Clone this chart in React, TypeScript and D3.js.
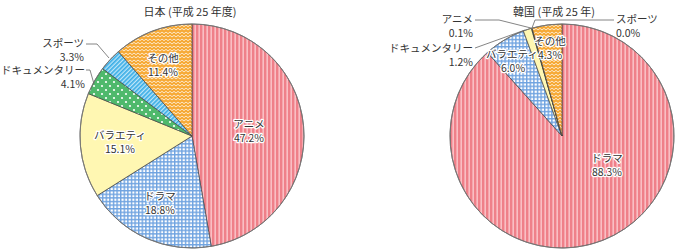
import React from "react";
import * as d3 from "d3";

const jpCategories = ["アニメ", "ドラマ", "バラエティ", "ドキュメンタリー", "スポーツ", "その他"];
const jpValues = [47.2, 18.8, 15.1, 4.1, 3.3, 11.4];
const jpFills = ["red", "check", "yellow", "dots", "stripe", "zig"];

const krCategories = ["ドラマ", "バラエティ", "ドキュメンタリー", "アニメ", "スポーツ", "その他"];
const krValues = [88.3, 6.0, 1.2, 0.1, 0.0, 4.3];
const krFills = ["red", "check", "yellow", "dots", "stripe", "zig"];

const titles = ["日本 (平成 25 年度)", "韓国 (平成 25 年)"];

const W = 678;
const H = 252;
const R = 112;
const FONT = "'Noto Sans CJK JP', 'Noto Sans', sans-serif";

type Lbl = { cat: string; x: number; y: number; anchor: "start" | "middle" | "end"; line?: [number, number][]; outside?: boolean };

const jpLabelPos: Record<string, Lbl> = {
  "アニメ": { cat: "アニメ", x: 249, y: 128, anchor: "middle" },
  "ドラマ": { cat: "ドラマ", x: 160, y: 200, anchor: "middle" },
  "バラエティ": { cat: "バラエティ", x: 120, y: 139, anchor: "middle" },
  "ドキュメンタリー": { cat: "ドキュメンタリー", x: 85, y: 74, anchor: "end", outside: true, line: [[86, 70], [90, 70], [94, 84]] },
  "スポーツ": { cat: "スポーツ", x: 84, y: 47, anchor: "end", outside: true, line: [[86, 44], [97, 44], [109, 58]] },
  "その他": { cat: "その他", x: 163, y: 62, anchor: "middle" },
};
const krLabelPos: Record<string, Lbl> = {
  "ドラマ": { cat: "ドラマ", x: 607, y: 162, anchor: "middle" },
  "バラエティ": { cat: "バラエティ", x: 512, y: 58, anchor: "middle" },
  "ドキュメンタリー": { cat: "ドキュメンタリー", x: 473, y: 52, anchor: "end", outside: true, line: [[475, 48], [525, 30]] },
  "アニメ": { cat: "アニメ", x: 473, y: 23, anchor: "end", outside: true, line: [[475, 20], [499, 20], [531, 28]] },
  "スポーツ": { cat: "スポーツ", x: 616, y: 23, anchor: "start", outside: true, line: [[614, 20], [535, 20], [532, 28]] },
  "その他": { cat: "その他", x: 550, y: 45, anchor: "middle" },
};
const krValueOffsets: Record<string, [number, number, "start" | "middle" | "end"]> = {
  "バラエティ": [513, 72, "middle"],
  "その他": [550, 59, "middle"],
};

function Pie({ cx, cy, values, cats, fills, labels, title, titleX, valueOffsets }: any) {
  const pie = d3.pie<number>().sort(null).value((d) => d).startAngle(0).endAngle(2 * Math.PI);
  const arcs = pie(values);
  const arc = d3.arc<d3.PieArcDatum<number>>().innerRadius(0).outerRadius(R);
  const base = { fontFamily: FONT, fontSize: 10.5, fill: "#333" } as any;
  const halo = { ...base, stroke: "#fff", strokeWidth: 2.5, paintOrder: "stroke", strokeLinejoin: "round" } as any;
  return (
    <g>
      <text x={titleX} y={16} textAnchor="middle" style={{ ...base, fontSize: 11 }}>{title}</text>
      <g transform={`translate(${cx},${cy})`}>
        {arcs.map((a, i) => (
          <path key={i} d={arc(a) || ""} fill={`url(#p-${fills[i]})`} stroke="#444" strokeWidth={0.7} />
        ))}
        <circle r={R} fill="none" stroke="#777" strokeWidth={0.9} />
      </g>
      {cats.map((c: string, i: number) => {
        const l: Lbl = labels[c];
        if (!l) return null;
        const vo = valueOffsets && valueOffsets[c];
        const st = l.outside ? base : halo;
        return (
          <g key={c}>
            {l.line && (
              <polyline points={l.line.map((p) => p.join(",")).join(" ")} fill="none" stroke="#666" strokeWidth={0.8} />
            )}
            <text x={l.x} y={l.y} textAnchor={l.anchor} style={st}>{c}</text>
            <text
              x={vo ? vo[0] : l.x}
              y={vo ? vo[1] : l.y + 13.5}
              textAnchor={vo ? vo[2] : l.anchor}
              style={st}
            >
              {values[i].toFixed(1)}%
            </text>
          </g>
        );
      })}
    </g>
  );
}

export default function App() {
  return (
    <svg width={W} height={H} style={{ position: "absolute", left: 0, top: 0, background: "#fff" }}>
      <defs>
        <pattern id="p-red" patternUnits="userSpaceOnUse" width={4} height={10}>
          <rect width={4} height={10} fill="#f6a6ad" />
          <rect x={0} width={2} height={10} fill="#ef8089" />
          <rect x={3} width={0.6} height={10} fill="#fbd0d3" />
        </pattern>
        <pattern id="p-check" patternUnits="userSpaceOnUse" width={3.6} height={3.6}>
          <rect width={3.6} height={3.6} fill="#ffffff" />
          <rect width={1.4} height={3.6} fill="#6fa3e0" />
          <rect width={3.6} height={1.4} fill="#6fa3e0" />
        </pattern>
        <pattern id="p-yellow" patternUnits="userSpaceOnUse" width={4} height={4}>
          <rect width={4} height={4} fill="#fff7b2" />
        </pattern>
        <pattern id="p-dots" patternUnits="userSpaceOnUse" width={8} height={8}>
          <rect width={8} height={8} fill="#4fb96c" />
          <circle cx={2} cy={2} r={1.1} fill="#ffffff" />
          <circle cx={6} cy={6} r={1.1} fill="#ffffff" />
        </pattern>
        <pattern id="p-stripe" patternUnits="userSpaceOnUse" width={3} height={3} patternTransform="rotate(45)">
          <rect width={3} height={3} fill="#bfe6f8" />
          <rect width={1.7} height={3} fill="#3aaee6" />
        </pattern>
        <pattern id="p-zig" patternUnits="userSpaceOnUse" width={4} height={3.5}>
          <rect width={4} height={3.5} fill="#f6a935" />
          <path d="M0,2.6 L2,0.9 L4,2.6" fill="none" stroke="#ffffff" strokeWidth={0.8} />
        </pattern>
      </defs>
      <Pie cx={192} cy={136} values={jpValues} cats={jpCategories} fills={jpFills} labels={jpLabelPos} title={titles[0]} titleX={190} />
      <Pie cx={562} cy={136} values={krValues} cats={krCategories} fills={krFills} labels={krLabelPos} title={titles[1]} titleX={554} valueOffsets={krValueOffsets} />
    </svg>
  );
}
